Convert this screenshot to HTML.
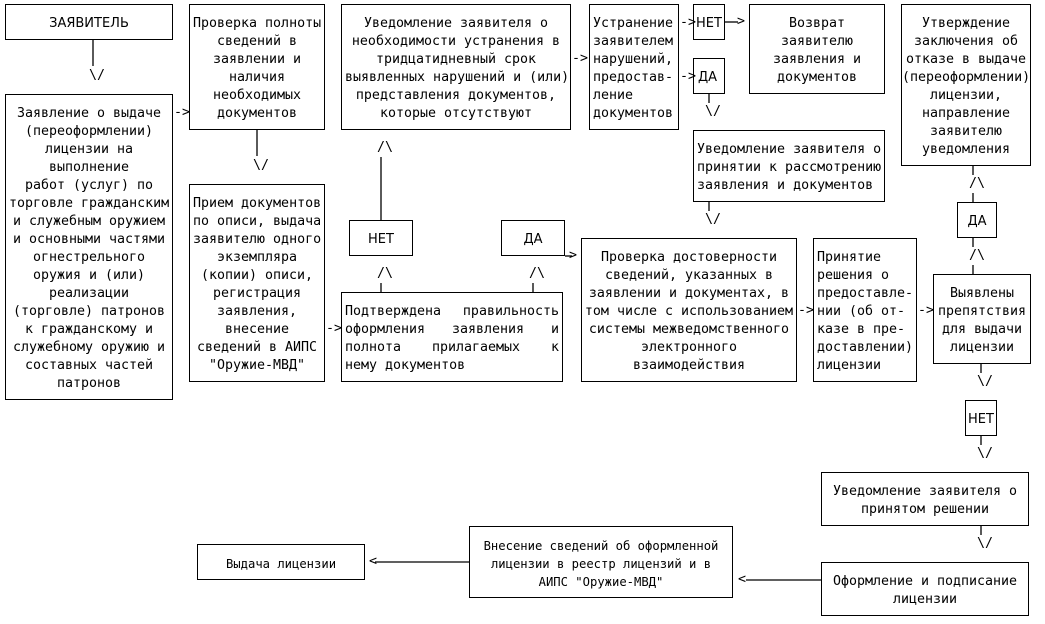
<!DOCTYPE html>
<html><head><meta charset="utf-8"><style>
body{margin:0;background:#fff;width:1045px;height:624px;position:relative;overflow:hidden;
font-family:"DejaVu Sans Mono","Liberation Mono",monospace;font-size:13.3px;color:#000}
.b{position:absolute;border:1px solid #000;box-sizing:border-box;padding:10px 3px 0 3px;line-height:18px;text-align:center;white-space:nowrap}
.b div{white-space:nowrap}
.j div{text-align:justify;text-align-last:justify}
.l{text-align:left}
.t{position:absolute;line-height:18px;white-space:pre}
.s{font-family:"DejaVu Sans","Liberation Sans",sans-serif;font-size:13px}
.c{font-family:"DejaVu Sans Mono",monospace;font-size:12.2px;letter-spacing:0}
svg{position:absolute;left:0;top:0}
</style></head><body>
<svg width="1045" height="624"><g stroke="#000" stroke-width="1.3" fill="none">
<line x1="93" y1="40" x2="93" y2="66"/>
<line x1="257" y1="130" x2="257" y2="156"/>
<line x1="381" y1="157" x2="381" y2="220"/>
<line x1="381" y1="283" x2="381" y2="292"/>
<line x1="533" y1="283" x2="533" y2="292"/>
<line x1="565" y1="256" x2="572" y2="256"/>
<line x1="725" y1="22" x2="738" y2="22"/>
<line x1="709" y1="94" x2="709" y2="103"/>
<line x1="709" y1="202" x2="709" y2="211"/>
<line x1="973" y1="166" x2="973" y2="175"/>
<line x1="973" y1="193" x2="973" y2="202"/>
<line x1="973" y1="238" x2="973" y2="247"/>
<line x1="973" y1="265" x2="973" y2="274"/>
<line x1="981" y1="364" x2="981" y2="373"/>
<line x1="981" y1="436" x2="981" y2="445"/>
<line x1="981" y1="526" x2="981" y2="535"/>
<line x1="746" y1="580" x2="821" y2="580"/>
<line x1="375" y1="562" x2="469" y2="562"/>
</g></svg>

<div class="b s" style="left:5px;top:4px;width:168px;height:36px">ЗАЯВИТЕЛЬ</div>
<div class="b" style="left:5px;top:94px;width:168px;height:306px">Заявление о выдаче<br>(переоформлении)<br>лицензии на<br>выполнение<br>работ (услуг) по<br>торговле гражданским<br>и служебным оружием<br>и основными частями<br>огнестрельного<br>оружия и (или)<br>реализации<br>(торговле) патронов<br>к гражданскому и<br>служебному оружию и<br>составных частей<br>патронов</div>
<div class="b" style="left:189px;top:4px;width:136px;height:126px">Проверка полноты<br>сведений в<br>заявлении и<br>наличия<br>необходимых<br>документов</div>
<div class="b" style="left:189px;top:184px;width:136px;height:198px">Прием документов<br>по описи, выдача<br>заявителю одного<br>экземпляра<br>(копии) описи,<br>регистрация<br>заявления,<br>внесение<br>сведений в АИПС<br>"Оружие-МВД"</div>
<div class="b" style="left:341px;top:4px;width:230px;height:126px">Уведомление заявителя о<br>необходимости устранения в<br>тридцатидневный срок<br>выявленных нарушений и (или)<br>представления документов,<br>которые отсутствуют</div>
<div class="b l" style="left:589px;top:4px;width:90px;height:126px">Устранение<br>заявителем<br>нарушений,<br>предостав-<br>ление<br>документов</div>
<div class="b s" style="left:693px;top:4px;width:32px;height:36px;padding:10px 0 0 0">НЕТ</div>
<div class="b s l" style="left:693px;top:58px;width:32px;height:36px;padding:10px 0 0 4px">ДА</div>
<div class="b" style="left:749px;top:4px;width:136px;height:90px">Возврат<br>заявителю<br>заявления и<br>документов</div>
<div class="b" style="left:901px;top:4px;width:130px;height:162px;padding-left:0;padding-right:0">Утверждение<br>заключения об<br>отказе в выдаче<br>(переоформлении)<br>лицензии,<br>направление<br>заявителю<br>уведомления</div>
<div class="b l" style="left:693px;top:130px;width:192px;height:72px">Уведомление заявителя о<br>принятии к рассмотрению<br>заявления и документов</div>
<div class="b s" style="left:349px;top:220px;width:64px;height:36px">НЕТ</div>
<div class="b s" style="left:501px;top:220px;width:64px;height:36px">ДА</div>
<div class="b j" style="left:341px;top:292px;width:222px;height:90px"><div>Подтверждена правильность</div><div>оформления заявления и</div><div>полнота прилагаемых к</div><div style="text-align-last:left">нему документов</div></div>
<div class="b" style="left:581px;top:238px;width:216px;height:144px;padding-left:1px;padding-right:1px">Проверка достоверности<br>сведений, указанных в<br>заявлении и документах, в<br>том числе с использованием<br>системы межведомственного<br>электронного<br>взаимодействия</div>
<div class="b l" style="left:813px;top:238px;width:104px;height:144px">Принятие<br>решения о<br>предоставле-<br>нии (об от-<br>казе в пре-<br>доставлении)<br>лицензии</div>
<div class="b s" style="left:957px;top:202px;width:40px;height:36px;padding:10px 0 0 0">ДА</div>
<div class="b" style="left:933px;top:274px;width:98px;height:90px;padding:10px 0 0 0">Выявлены<br>препятствия<br>для выдачи<br>лицензии</div>
<div class="b s" style="left:965px;top:400px;width:32px;height:36px;padding:10px 0 0 0">НЕТ</div>
<div class="b" style="left:821px;top:472px;width:208px;height:54px">Уведомление заявителя о<br>принятом решении</div>
<div class="b" style="left:821px;top:562px;width:208px;height:54px">Оформление и подписание<br>лицензии</div>
<div class="b c" style="left:469px;top:526px;width:264px;height:72px;padding-left:0;padding-right:0">Внесение сведений об оформленной<br>лицензии в реестр лицензий и в<br>АИПС "Оружие-МВД"</div>
<div class="b c" style="left:197px;top:544px;width:168px;height:36px">Выдача лицензии</div>

<div class="t" style="left:89px;top:67px">\/</div>
<div class="t" style="left:174px;top:104px">-></div>
<div class="t" style="left:253px;top:157px">\/</div>
<div class="t" style="left:377px;top:139px">/\</div>
<div class="t" style="left:377px;top:265px">/\</div>
<div class="t" style="left:529px;top:265px">/\</div>
<div class="t" style="left:569px;top:247px">></div>
<div class="t" style="left:326px;top:320px">-></div>
<div class="t" style="left:572px;top:50px">-></div>
<div class="t" style="left:680px;top:14px">-></div>
<div class="t" style="left:680px;top:68px">-></div>
<div class="t" style="left:737px;top:13px">></div>
<div class="t" style="left:705px;top:103px">\/</div>
<div class="t" style="left:705px;top:211px">\/</div>
<div class="t" style="left:798px;top:302px">-></div>
<div class="t" style="left:918px;top:302px">-></div>
<div class="t" style="left:969px;top:175px">/\</div>
<div class="t" style="left:969px;top:247px">/\</div>
<div class="t" style="left:977px;top:373px">\/</div>
<div class="t" style="left:977px;top:445px">\/</div>
<div class="t" style="left:977px;top:535px">\/</div>
<div class="t" style="left:738px;top:571px">&lt;</div>
<div class="t" style="left:369px;top:553px">&lt;</div>
</body></html>
